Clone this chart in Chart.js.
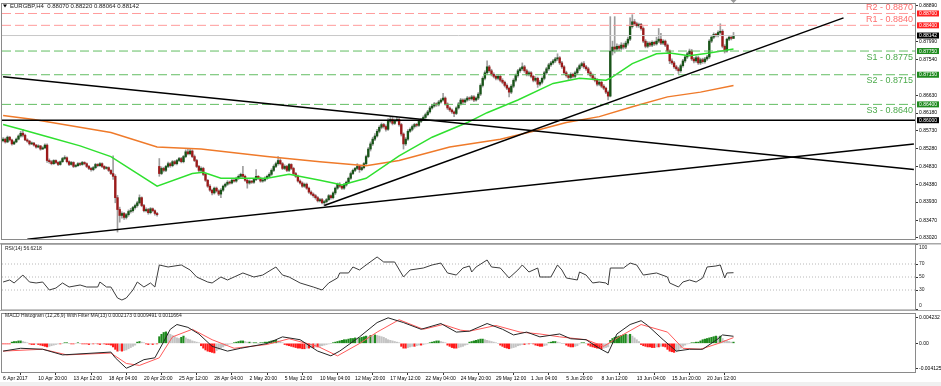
<!DOCTYPE html>
<html>
<head>
<meta charset="utf-8">
<script src="https://cdn.jsdelivr.net/npm/chart.js@4.4.1/dist/chart.umd.min.js"></script>
<style>
html, body { margin: 0; padding: 0; background: #fff; }
#wrap { position: relative; width: 941px; height: 386px; overflow: hidden; background: #fff; }
canvas { position: absolute; left: 0; }
</style>
</head>
<body>
<div id="wrap">
  <canvas id="main" width="941" height="243" style="top:0px"></canvas>
  <canvas id="rsi" width="941" height="67" style="top:243px"></canvas>
  <canvas id="macd" width="941" height="76" style="top:310px"></canvas>
</div>
<script>
// EURGBP H4 candles, bar index 0 = 6 Apr 2017
const opens = [
  0.8548,0.8552,0.8545,0.8557,0.8550,0.8540,0.8545,0.8552,0.8560,0.8567,0.8562,0.8550,0.8547,0.8540,0.8542,0.8537,0.8532,0.8535,0.8527,0.8530,0.8537,
  0.8498,0.8495,0.8490,0.8498,0.8493,0.8488,0.8495,0.8503,0.8505,0.8495,0.8488,0.8493,0.8483,0.8485,0.8490,0.8488,0.8493,0.8490,0.8483,0.8478,0.8475,0.8480,0.8488,0.8485,0.8490,0.8483,0.8478,0.8480,0.8473,
  0.8465,0.8458,0.8404,0.8374,0.8359,0.8364,0.8354,0.8361,0.8369,0.8371,0.8379,0.8384,0.8391,0.8404,0.8384,0.8371,0.8374,0.8366,0.8376,0.8371,0.8364,
  0.8483,0.8465,0.8478,0.8473,0.8483,0.8490,0.8485,0.8495,0.8490,0.8498,0.8503,0.8495,0.8508,0.8520,0.8515,0.8522,0.8508,0.8498,0.8483,0.8473,0.8478,0.8463,0.8448,0.8433,0.8423,0.8416,0.8428,0.8421,0.8413,0.8423,
  0.8433,0.8438,0.8443,0.8441,0.8448,0.8446,0.8453,0.8458,0.8463,0.8458,0.8448,0.8441,0.8446,0.8443,0.8450,0.8458,0.8453,0.8446,0.8448,0.8453,0.8458,0.8463,0.8473,0.8483,
  0.8490,0.8498,0.8490,0.8478,0.8483,0.8473,0.8488,0.8478,0.8465,0.8458,0.8446,0.8441,0.8433,0.8438,0.8428,0.8418,0.8413,0.8409,0.8404,0.8396,0.8399,0.8391,
  0.8394,0.8399,0.8409,0.8404,0.8416,0.8428,0.8438,0.8433,0.8428,0.8436,0.8443,0.8453,0.8465,0.8473,0.8478,0.8483,0.8475,0.8480,0.8490,0.8508,0.8527,0.8540,0.8552,0.8560,
  0.8572,0.8582,0.8589,0.8584,0.8577,0.8597,0.8602,0.8592,0.8599,0.8602,0.8589,0.8565,0.8540,0.8552,0.8572,
  0.8577,0.8584,0.8589,0.8587,0.8597,0.8602,0.8607,0.8614,0.8621,0.8631,0.8636,0.8641,0.8639,0.8646,0.8651,0.8656,0.8641,0.8631,0.8626,0.8621,0.8617,0.8631,0.8641,0.8651,0.8646,0.8651,0.8656,0.8654,0.8659,0.8651,
  0.8656,0.8666,0.8688,0.8706,0.8720,0.8735,0.8725,0.8716,0.8711,0.8706,0.8711,0.8701,0.8696,0.8688,0.8681,0.8671,
  0.8686,0.8701,0.8713,0.8725,0.8730,0.8735,0.8725,0.8716,0.8720,0.8711,0.8701,0.8706,0.8691,0.8696,0.8706,
  0.8720,0.8730,0.8740,0.8745,0.8750,0.8755,0.8758,0.8745,0.8735,0.8720,0.8713,0.8708,0.8716,0.8711,0.8720,0.8730,
  0.8738,0.8743,0.8735,0.8730,0.8720,0.8713,0.8706,0.8701,0.8691,0.8696,0.8686,0.8681,0.8671,
  0.8661,0.8775,0.8785,0.8780,0.8787,0.8782,0.8790,0.8785,0.8795,0.8805,0.8837,0.8849,0.8844,0.8839,0.8842,
  0.8832,0.8800,0.8787,0.8795,0.8790,0.8797,0.8793,0.8800,0.8805,0.8795,0.8800,0.8790,0.8775,0.8750,0.8745,0.8735,0.8730,
  0.8725,0.8738,0.8750,0.8760,0.8768,0.8775,0.8755,0.8750,0.8758,0.8745,0.8753,0.8748,0.8755,
  0.8760,0.8800,0.8810,0.8817,0.8815,0.8822,0.8825,0.8787,0.8775,0.8805,0.8810,0.88070
];
const highs = [
  0.8556,0.8555,0.8560,0.8559,0.8552,0.8548,0.8555,0.8563,0.8572,0.8577,0.8565,0.8553,0.8549,0.8545,0.8544,0.8539,0.8538,0.8536,0.8533,0.8540,0.8540,
  0.8502,0.8498,0.8500,0.8500,0.8495,0.8497,0.8506,0.8510,0.8507,0.8497,0.8496,0.8495,0.8488,0.8493,0.8493,0.8496,0.8495,0.8492,0.8486,0.8481,0.8483,0.8491,0.8490,0.8493,0.8492,0.8485,0.8483,0.8482,0.8475,
  0.8510,0.8462,0.8410,0.8380,0.8368,0.8367,0.8364,0.8373,0.8377,0.8382,0.8388,0.8395,0.8411,0.8406,0.8387,0.8378,0.8377,0.8379,0.8378,0.8373,0.8367,
  0.8503,0.8482,0.8481,0.8486,0.8494,0.8493,0.8498,0.8498,0.8501,0.8506,0.8506,0.8511,0.8525,0.8527,0.8527,0.8525,0.8512,0.8501,0.8486,0.8482,0.8481,0.8466,0.8450,0.8437,0.8426,0.8431,0.8431,0.8424,0.8427,0.8436,
  0.8441,0.8447,0.8446,0.8451,0.8450,0.8456,0.8462,0.8466,0.8483,0.8461,0.8451,0.8449,0.8447,0.8453,0.8475,0.8460,0.8456,0.8451,0.8457,0.8461,0.8467,0.8477,0.8487,0.8494,
  0.8508,0.8503,0.8493,0.8487,0.8486,0.8491,0.8490,0.8481,0.8468,0.8461,0.8449,0.8444,0.8441,0.8441,0.8431,0.8421,0.8416,0.8412,0.8407,0.8402,0.8402,0.8397,
  0.8402,0.8412,0.8411,0.8419,0.8431,0.8441,0.8442,0.8436,0.8440,0.8446,0.8456,0.8469,0.8476,0.8481,0.8490,0.8486,0.8483,0.8493,0.8512,0.8531,0.8545,0.8557,0.8566,0.8577,
  0.8586,0.8593,0.8592,0.8588,0.8604,0.8609,0.8607,0.8603,0.8607,0.8605,0.8592,0.8568,0.8556,0.8576,0.8581,
  0.8588,0.8592,0.8592,0.8600,0.8605,0.8611,0.8618,0.8625,0.8635,0.8640,0.8645,0.8644,0.8650,0.8655,0.8668,0.8659,0.8644,0.8634,0.8629,0.8624,0.8634,0.8645,0.8655,0.8654,0.8655,0.8660,0.8659,0.8663,0.8662,0.8659,
  0.8670,0.8692,0.8710,0.8725,0.8750,0.8739,0.8729,0.8720,0.8715,0.8715,0.8714,0.8705,0.8699,0.8692,0.8684,0.8690,
  0.8705,0.8717,0.8729,0.8734,0.8745,0.8739,0.8729,0.8724,0.8723,0.8714,0.8710,0.8709,0.8700,0.8710,0.8724,
  0.8734,0.8744,0.8749,0.8754,0.8759,0.8768,0.8761,0.8749,0.8738,0.8724,0.8716,0.8720,0.8719,0.8724,0.8734,0.8742,
  0.8747,0.8748,0.8739,0.8734,0.8724,0.8717,0.8710,0.8705,0.8700,0.8699,0.8690,0.8684,0.8674,
  0.8862,0.8800,0.8862,0.8793,0.8791,0.8796,0.8795,0.8800,0.8810,0.8859,0.8867,0.8855,0.8848,0.8846,0.8845,
  0.8836,0.8804,0.8799,0.8798,0.8801,0.8800,0.8810,0.8832,0.8820,0.8804,0.8803,0.8793,0.8778,0.8755,0.8749,0.8739,0.8734,
  0.8742,0.8754,0.8764,0.8772,0.8780,0.8779,0.8759,0.8762,0.8762,0.8757,0.8757,0.8759,0.8764,
  0.8804,0.8814,0.8821,0.8820,0.8826,0.8844,0.8829,0.8791,0.8808,0.8814,0.8812,0.88220
];
const lows = [
  0.8545,0.8542,0.8543,0.8547,0.8537,0.8538,0.8543,0.8550,0.8557,0.8558,0.8548,0.8544,0.8537,0.8538,0.8534,0.8529,0.8530,0.8524,0.8526,0.8528,0.8493,
  0.8491,0.8487,0.8488,0.8490,0.8485,0.8486,0.8493,0.8500,0.8492,0.8485,0.8486,0.8480,0.8481,0.8483,0.8485,0.8486,0.8487,0.8480,0.8475,0.8471,0.8472,0.8477,0.8482,0.8483,0.8480,0.8475,0.8476,0.8470,0.8462,
  0.8450,0.8391,0.8317,0.8342,0.8352,0.8349,0.8350,0.8357,0.8365,0.8367,0.8375,0.8380,0.8388,0.8381,0.8368,0.8368,0.8362,0.8363,0.8368,0.8360,0.8357,
  0.8458,0.8462,0.8469,0.8470,0.8480,0.8481,0.8482,0.8487,0.8487,0.8495,0.8492,0.8492,0.8505,0.8512,0.8512,0.8505,0.8495,0.8480,0.8470,0.8470,0.8460,0.8445,0.8430,0.8420,0.8411,0.8413,0.8418,0.8409,0.8404,0.8420,
  0.8430,0.8435,0.8438,0.8439,0.8443,0.8443,0.8450,0.8455,0.8455,0.8445,0.8428,0.8438,0.8440,0.8440,0.8447,0.8450,0.8443,0.8443,0.8445,0.8450,0.8455,0.8460,0.8470,0.8480,
  0.8486,0.8487,0.8475,0.8475,0.8470,0.8470,0.8475,0.8462,0.8455,0.8443,0.8438,0.8430,0.8430,0.8425,0.8415,0.8410,0.8405,0.8400,0.8393,0.8393,0.8388,0.8384,
  0.8390,0.8396,0.8400,0.8401,0.8412,0.8425,0.8430,0.8425,0.8425,0.8433,0.8440,0.8450,0.8462,0.8470,0.8475,0.8468,0.8472,0.8477,0.8487,0.8505,0.8522,0.8536,0.8548,0.8557,
  0.8568,0.8578,0.8580,0.8572,0.8574,0.8593,0.8588,0.8589,0.8596,0.8585,0.8560,0.8527,0.8536,0.8549,0.8569,
  0.8573,0.8580,0.8583,0.8584,0.8594,0.8599,0.8604,0.8611,0.8618,0.8628,0.8633,0.8635,0.8636,0.8643,0.8648,0.8638,0.8627,0.8622,0.8617,0.8609,0.8614,0.8628,0.8638,0.8642,0.8643,0.8648,0.8650,0.8651,0.8647,0.8648,
  0.8652,0.8662,0.8684,0.8702,0.8716,0.8721,0.8712,0.8707,0.8702,0.8702,0.8697,0.8692,0.8684,0.8677,0.8659,0.8667,
  0.8682,0.8697,0.8709,0.8721,0.8726,0.8721,0.8712,0.8712,0.8707,0.8697,0.8697,0.8683,0.8687,0.8692,0.8702,
  0.8716,0.8726,0.8736,0.8741,0.8746,0.8751,0.8741,0.8731,0.8716,0.8709,0.8703,0.8704,0.8707,0.8707,0.8716,0.8726,
  0.8734,0.8731,0.8726,0.8716,0.8709,0.8702,0.8697,0.8687,0.8687,0.8682,0.8677,0.8667,0.8651,
  0.8659,0.8765,0.8770,0.8775,0.8776,0.8778,0.8780,0.8781,0.8790,0.8801,0.8833,0.8840,0.8835,0.8835,0.8828,
  0.8796,0.8783,0.8783,0.8786,0.8786,0.8789,0.8790,0.8796,0.8791,0.8791,0.8786,0.8771,0.8743,0.8741,0.8731,0.8726,0.8718,
  0.8721,0.8734,0.8746,0.8756,0.8764,0.8751,0.8745,0.8746,0.8741,0.8741,0.8744,0.8744,0.8751,
  0.8756,0.8796,0.8806,0.8811,0.8811,0.8818,0.8783,0.8770,0.8772,0.8801,0.8803,0.88064
];
const closes = [
  0.8552,0.8545,0.8557,0.8550,0.8540,0.8545,0.8552,0.8560,0.8567,0.8562,0.8550,0.8547,0.8540,0.8542,0.8537,0.8532,0.8535,0.8527,0.8530,0.8537,0.8498,
  0.8495,0.8490,0.8498,0.8493,0.8488,0.8495,0.8503,0.8505,0.8495,0.8488,0.8493,0.8483,0.8485,0.8490,0.8488,0.8493,0.8490,0.8483,0.8478,0.8475,0.8480,0.8488,0.8485,0.8490,0.8483,0.8478,0.8480,0.8473,0.8465,
  0.8458,0.8404,0.8374,0.8359,0.8364,0.8354,0.8361,0.8369,0.8371,0.8379,0.8384,0.8391,0.8404,0.8384,0.8371,0.8374,0.8366,0.8376,0.8371,0.8364,0.8361,
  0.8465,0.8478,0.8473,0.8483,0.8490,0.8485,0.8495,0.8490,0.8498,0.8503,0.8495,0.8508,0.8520,0.8515,0.8522,0.8508,0.8498,0.8483,0.8473,0.8478,0.8463,0.8448,0.8433,0.8423,0.8416,0.8428,0.8421,0.8413,0.8423,0.8433,
  0.8438,0.8443,0.8441,0.8448,0.8446,0.8453,0.8458,0.8463,0.8458,0.8448,0.8441,0.8446,0.8443,0.8450,0.8458,0.8453,0.8446,0.8448,0.8453,0.8458,0.8463,0.8473,0.8483,0.8490,
  0.8498,0.8490,0.8478,0.8483,0.8473,0.8488,0.8478,0.8465,0.8458,0.8446,0.8441,0.8433,0.8438,0.8428,0.8418,0.8413,0.8409,0.8404,0.8396,0.8399,0.8391,0.8394,
  0.8399,0.8409,0.8404,0.8416,0.8428,0.8438,0.8433,0.8428,0.8436,0.8443,0.8453,0.8465,0.8473,0.8478,0.8483,0.8475,0.8480,0.8490,0.8508,0.8527,0.8540,0.8552,0.8560,0.8572,
  0.8582,0.8589,0.8584,0.8577,0.8597,0.8602,0.8592,0.8599,0.8602,0.8589,0.8565,0.8540,0.8552,0.8572,0.8577,
  0.8584,0.8589,0.8587,0.8597,0.8602,0.8607,0.8614,0.8621,0.8631,0.8636,0.8641,0.8639,0.8646,0.8651,0.8656,0.8641,0.8631,0.8626,0.8621,0.8617,0.8631,0.8641,0.8651,0.8646,0.8651,0.8656,0.8654,0.8659,0.8651,0.8656,
  0.8666,0.8688,0.8706,0.8720,0.8735,0.8725,0.8716,0.8711,0.8706,0.8711,0.8701,0.8696,0.8688,0.8681,0.8671,0.8686,
  0.8701,0.8713,0.8725,0.8730,0.8735,0.8725,0.8716,0.8720,0.8711,0.8701,0.8706,0.8691,0.8696,0.8706,0.8720,
  0.8730,0.8740,0.8745,0.8750,0.8755,0.8758,0.8745,0.8735,0.8720,0.8713,0.8708,0.8716,0.8711,0.8720,0.8730,0.8738,
  0.8743,0.8735,0.8730,0.8720,0.8713,0.8706,0.8701,0.8691,0.8696,0.8686,0.8681,0.8671,0.8661,
  0.8775,0.8785,0.8780,0.8787,0.8782,0.8790,0.8785,0.8795,0.8805,0.8837,0.8849,0.8844,0.8839,0.8842,0.8832,
  0.8800,0.8787,0.8795,0.8790,0.8797,0.8793,0.8800,0.8805,0.8795,0.8800,0.8790,0.8775,0.8750,0.8745,0.8735,0.8730,0.8725,
  0.8738,0.8750,0.8760,0.8768,0.8775,0.8755,0.8750,0.8758,0.8745,0.8753,0.8748,0.8755,0.8760,
  0.8800,0.8810,0.8817,0.8815,0.8822,0.8825,0.8787,0.8775,0.8805,0.8810,0.8807,0.88142
];

// moving averages (bar index, price)
const ma50Bars = [0,8,21,35,49,70,86,91,99,120,130,144,150,154,165,180,195,211,220,234,250,262,274,276,286,297,303,312,321,332];
const ma50Values = [0.8589,0.8577,0.8557,0.8535,0.8508,0.8433,0.8465,0.8468,0.8453,0.8453,0.8463,0.8448,0.8441,0.8436,0.8453,0.8510,0.8557,0.8594,0.8619,0.8651,0.8693,0.8706,0.8701,0.8706,0.8743,0.8768,0.8770,0.8763,0.8770,0.8780];
const ma200Bars = [0,14,49,70,90,120,144,165,180,203,226,241,256,271,286,302,317,332];
const ma200Values = [0.8612,0.8602,0.8569,0.8532,0.8527,0.8508,0.8495,0.8485,0.8498,0.8532,0.8552,0.8572,0.8594,0.8609,0.8634,0.8659,0.8671,0.8688];

// trendlines: start bar/price, end bar/price
const tlBar1 = [0, 11, 146];
const tlPrice1 = [0.8710, 0.8299, 0.8384];
const tlBar2 = [414, 414, 382];
const tlPrice2 = [0.8475, 0.8540, 0.8859];

// support / resistance
const levelNames = ['R2', 'R1', 'S1', 'S2', 'S3'];
const levelValues = [0.8870, 0.8840, 0.8775, 0.8715, 0.8640];
const keyLevel = 0.8600;
const priceTicks = [0.8889,0.8799,0.8754,0.8663,0.8618,0.8573,0.8528,0.8483,0.8438,0.8393,0.8347,0.8302];

// RSI(14)
const rsiBars = [0,3,5,9,12,15,18,21,24,27,30,35,38,43,44,47,49,52,54,56,59,61,64,67,69,71,75,81,85,88,93,95,99,102,105,109,114,118,124,127,130,135,141,145,148,152,153,157,159,162,165,170,173,178,182,185,191,195,199,202,206,209,212,213,215,220,222,226,230,234,236,239,243,244,249,252,254,256,261,262,265,268,271,274,275,276,282,285,288,291,297,302,303,307,309,312,315,318,320,324,326,328,329,332];
const rsiValues = [42.3,45.4,40.8,53,42.3,40.8,42.3,30,33,40.8,34.6,37.7,34.6,34.6,42.3,34.6,34.6,17.7,14.6,17.7,30,42.3,34.6,40.8,34.6,68.5,65.4,68.5,60.8,50,42.3,40.8,50,45.4,50,56.2,50,53,65.4,53,50,40.8,34.6,30,40.8,48.5,56.2,56.2,65.4,60.8,68.5,80.8,73.1,73.1,50,60.8,63.8,68.5,71.5,56.2,53,63.8,66.9,57.7,65.4,76.2,65.4,63.8,48.5,60.8,68.5,57.7,63.8,50,50,68.5,60.8,48.5,45.4,57.7,53,40.8,42.3,40.8,37.7,63.8,63.8,71.5,68.5,53,56.2,50,40.8,34.6,42.3,45.4,42.3,48.5,65.4,66.9,68.5,48.5,56.2,56.6];
const rsiLevels = [30, 50, 70];
const rsiLabelValues = [0, 30, 50, 70, 100];
const rsiLast = 56.6218;

// MACD histogram (one per bar), MACD and signal lines
const histValues = [
  -0.0001,-0.0001,-0.0001,-0.0001,
  0.0002,0.0003,0.0003,0.0004,0.0004,0.0003,0.0002,0.0001,
  -0.0001,-0.0002,-0.0002,-0.0001,-0.0002,-0.0003,-0.0004,-0.0005,
  -0.0006,-0.0005,-0.0004,-0.0003,
  -0.0002,-0.0001,-0.0001,0,0.0001,0.0001,0,-0.0001,-0.0001,0,0.0001,0,-0.0001,-0.0001,
  -0.0001,-0.0002,-0.0001,-0.0001,0,-0.0001,-0.0002,-0.0001,-0.0001,-0.0002,-0.0002,-0.0003,
  -0.0006,-0.0010,-0.0013,-0.0012,-0.0013,-0.0012,-0.0011,
  -0.0009,-0.0007,-0.0005,-0.0003,
  0.0002,0.0003,0.0002,0.0001,
  -0.0001,-0.0002,-0.0001,-0.0002,-0.0001,-0.0001,
  0.0011,0.0015,0.0018,0.0019,0.0017,
  0.0015,0.0013,0.0011,0.0009,0.0008,0.0010,
  0.0012,0.0009,0.0007,0.0006,0.0004,0.0003,0.0002,0.0001,
  -0.0004,-0.0008,-0.0011,-0.0013,-0.0014,-0.0015,-0.0016,
  -0.0012,-0.0010,-0.0008,-0.0006,-0.0004,-0.0002,-0.0001,0,
  0.0001,0.0002,0.0003,0.0004,0.0004,0.0003,0.0002,0.0002,0.0001,0.0001,
  0.0001,0,0.0001,0.0001,0.0002,0.0002,0.0003,0.0004,0.0005,0.0005,0.0004,0.0003,0.0001,
  -0.0002,-0.0003,-0.0004,-0.0005,-0.0006,-0.0007,-0.0008,-0.0008,-0.0009,-0.0009,-0.0008,-0.0008,-0.0007,-0.0007,-0.0006,-0.0006,-0.0005,-0.0004,-0.0003,-0.0002,-0.0001,
  0,0.0001,0.0002,
  0.0003,0.0004,0.0005,0.0006,0.0006,0.0007,0.0008,0.0008,0.0009,0.0008,0.0009,0.0010,0.0011,0.0012,0.0011,0.0013,0.0012,0.0014,0.0013,0.0012,0.0011,
  0.0010,0.0008,0.0006,0.0005,0.0004,0.0003,0.0002,0.0001,
  -0.0005,-0.0008,-0.0008,-0.0007,-0.0006,-0.0005,-0.0005,-0.0004,-0.0003,-0.0003,-0.0002,-0.0001,0,
  0.0001,0.0002,0.0003,0.0004,0.0004,0.0003,0.0002,0.0001,
  -0.0003,-0.0005,-0.0007,-0.0008,-0.0008,-0.0007,-0.0006,-0.0005,-0.0003,-0.0002,
  0.0002,0.0003,0.0004,0.0005,0.0006,0.0007,0.0007,0.0006,
  0.0005,0.0004,0.0003,0.0002,0.0001,0,
  -0.0003,-0.0005,-0.0007,-0.0008,-0.0009,-0.0008,-0.0007,-0.0006,-0.0004,-0.0003,
  -0.0002,-0.0002,-0.0001,-0.0001,0,-0.0001,
  -0.0003,-0.0004,-0.0005,-0.0005,-0.0004,-0.0003,
  0.0001,0.0002,0.0003,0.0003,0.0002,
  0.0001,0,0,
  -0.0003,-0.0005,-0.0006,-0.0006,-0.0005,-0.0004,
  -0.0001,0.0001,0.0001,0,
  -0.0003,-0.0005,-0.0006,-0.0007,-0.0008,-0.0008,-0.0009,-0.0008,-0.0007,-0.0006,
  0.0005,0.0008,0.0010,0.0011,
  0.0012,0.0013,0.0014,0.0015,0.0014,0.0015,
  0.0012,0.0009,0.0006,0.0003,
  -0.0002,-0.0004,-0.0005,-0.0006,-0.0006,-0.0007,-0.0007,-0.0006,-0.0006,-0.0005,-0.0005,-0.0006,
  -0.0010,-0.0013,-0.0014,-0.0015,-0.0014,-0.0012,
  -0.0008,-0.0005,-0.0003,-0.0001,0,0.0001,
  0.0001,0.0002,0.0002,
  0.0004,0.0006,0.0007,0.0008,0.0009,0.0010,0.0011,0.0012,0.0011,0.0012,
  0.0008,0.0005,0.0004,0.0003,0.0002,0.0002
];
const macdBars = [0,8,18,27,49,51,56,59,64,69,73,76,79,84,89,95,102,108,120,127,135,143,149,153,162,170,175,182,190,199,206,212,220,227,232,238,244,253,258,265,271,275,279,285,290,293,300,306,312,318,325,327,332];
const macdValues = [-0.00129,-0.00082,-0.00098,-0.00192,-0.00145,-0.0024,-0.00413,-0.00366,-0.00271,-0.0024,0.00028,0.00233,0.00312,0.00265,0.00155,-0.0005,-0.00129,-0.00082,-0.00003,0.00107,0.0006,-0.00129,-0.00208,-0.00129,0.00107,0.00344,0.00423,0.00344,0.00233,0.00328,0.00186,0.00202,0.00328,0.00233,0.00139,0.00186,0.00107,0.00155,0.00076,0.0006,-0.00082,-0.00161,0.00155,0.00312,0.00375,0.00296,0.0006,-0.00129,-0.00098,-0.00098,0.00076,0.00139,0.00117];
const signalBars = [0,18,29,49,56,62,71,77,86,95,105,120,130,143,152,162,170,180,191,200,208,212,224,235,244,253,265,273,280,290,302,309,317,325,332];
const signalValues = [-0.00129,-0.00098,-0.00192,-0.00161,-0.00334,-0.00366,-0.0024,0.00107,0.00233,0.0006,-0.00082,-0.00019,0.00076,-0.0005,-0.00208,-0.00003,0.00186,0.00391,0.00233,0.00312,0.00218,0.00202,0.00296,0.00186,0.00155,0.00107,0.0006,-0.0005,0.00107,0.00312,0.00186,-0.00082,-0.00098,-0.00003,0.00095];
const macdTitleValues = ['0.0002173', '0.0009491', '0.0011664'];
const macdTickValues = [-0.004125, 0, 0.004232];
const macdTickLabels = ['-0.004125', '0.00', '0.004232'];

// time axis
const tickBars = [0,16,32,48,64,80,96,112,128,144,160,176,192,208,224,240,256,272,288,304,320];
const timeLabels = ['6 Apr 2017','10 Apr 20:00','13 Apr 12:00','18 Apr 04:00','20 Apr 20:00','25 Apr 12:00','28 Apr 04:00','2 May 20:00','5 May 12:00','10 May 04:00','12 May 20:00','17 May 12:00','22 May 04:00','24 May 20:00','29 May 12:00','1 Jun 04:00','5 Jun 20:00','8 Jun 12:00','13 Jun 04:00','15 Jun 20:00','20 Jun 12:00'];

const FONT = '"Liberation Sans", Arial, sans-serif';
Chart.defaults.font.family = FONT;
Chart.defaults.color = '#000';

const xScale = { type: 'linear', min: -0.5, max: 414.5, offset: false, display: false };
const pts = (xs, ys) => xs.map((x, i) => ({ x: x, y: ys[i] }));
const line = (data, color, width, dash, order) => ({
  type: 'line', data: data, borderColor: color, borderWidth: width, borderDash: dash || [],
  pointRadius: 0, tension: 0, order: order
});
const hline = v => [{ x: -0.5, y: v }, { x: 414.5, y: v }];
const baseOpts = pad => ({
  responsive: false, animation: false, devicePixelRatio: 1,
  layout: { padding: pad },
  plugins: { legend: { display: false }, tooltip: { enabled: false } },
  events: []
});
const rightAxis = extra => Object.assign({
  position: 'right',
  afterFit(ax) { ax.width = 26; },
  grid: { drawOnChartArea: false, tickLength: 3, color: '#333' },
  border: { color: '#555' },
  ticks: { autoSkip: false, padding: 1, font: { size: 5 }, color: '#000' }
}, extra);

function frame(ctx, a) {
  ctx.strokeStyle = '#8a8a8a';
  ctx.lineWidth = 1;
  ctx.strokeRect(a.left - 0.5, a.top - 0.5, a.width + 1, a.height + 1);
}

// ---------- main price chart ----------
const last = closes.length - 1;
const bodyColors = closes.map((c, i) => c >= opens[i] ? '#185418' : '#9c1a1a');

const mainDecor = {
  id: 'mainDecor',
  afterDraw(chart) {
    const { ctx, chartArea: a, scales: { x, y } } = chart;
    ctx.save();
    frame(ctx, a);

    // captions of S/R lines
    ctx.font = '9px ' + FONT;
    ctx.textAlign = 'right';
    levelNames.forEach((n, i) => {
      const py = y.getPixelForValue(levelValues[i]);
      const res = n[0] === 'R';
      ctx.fillStyle = res ? '#ff6e6e' : '#4caa4c';
      ctx.textBaseline = res ? 'bottom' : 'top';
      ctx.fillText(n + ' - ' + levelValues[i].toFixed(4), a.right - 2, res ? py - 1.5 : py + 1.5);
    });

    // price boxes on the axis
    const boxes = levelValues.map((v, i) => [v, levelNames[i][0] === 'R' ? '#ff2020' : '#1f8a1f'])
      .concat([[closes[last], '#000'], [keyLevel, '#000']]);
    ctx.font = '5px ' + FONT;
    ctx.textAlign = 'left';
    ctx.textBaseline = 'middle';
    boxes.forEach(([v, col]) => {
      const py = y.getPixelForValue(v);
      ctx.fillStyle = col;
      ctx.fillRect(a.right + 2, py - 3, 22, 6);
      ctx.fillStyle = '#fff';
      ctx.fillText(v.toFixed(5), a.right + 4, py + 0.3);
    });

    // title
    ctx.fillStyle = '#000';
    ctx.beginPath();
    ctx.moveTo(3, 4.5); ctx.lineTo(7, 4.5); ctx.lineTo(5, 7.5); ctx.closePath(); ctx.fill();
    ctx.font = '6px ' + FONT;
    ctx.fillStyle = '#222';
    ctx.fillText('EURGBP,H4  ' + [opens[last], highs[last], lows[last], closes[last]].map(v => v.toFixed(5)).join(' '), 10, 6.5);

    // shift marker
    const sx = x.getPixelForValue(last);
    ctx.fillStyle = '#9a9a9a';
    ctx.beginPath();
    ctx.moveTo(sx - 3, 0); ctx.lineTo(sx + 3, 0); ctx.lineTo(sx, 3); ctx.closePath(); ctx.fill();
    ctx.restore();
  }
};

const mainSets = [
  { type: 'bar', data: highs.map((h, i) => ({ x: i, y: [lows[i], h] })), backgroundColor: '#9e9e9e',
    barThickness: 1, grouped: false, order: 10 },
  { type: 'bar', data: closes.map((c, i) => ({ x: i, y: [opens[i], c] })), backgroundColor: bodyColors,
    barThickness: 1.7, minBarLength: 1, grouped: false, order: 9 },
  line(pts(ma50Bars, ma50Values), '#2fe02f', 1.5, null, 5),
  line(pts(ma200Bars, ma200Values), '#ef7a2a', 1.5, null, 5),
  line(hline(closes[last]), '#c8c8c8', 1, null, 8),
  line(hline(keyLevel), '#000', 1.6, null, 3)
];
levelNames.forEach((n, i) => {
  mainSets.push(line(hline(levelValues[i]), n[0] === 'R' ? '#ff9c9c' : '#62bd62', 1, [9, 4], 3));
});
tlBar1.forEach((b, i) => {
  mainSets.push(line([{ x: b, y: tlPrice1[i] }, { x: tlBar2[i], y: tlPrice2[i] }], '#000', 1.5, null, 2));
});

new Chart(document.getElementById('main'), {
  type: 'bar',
  data: { datasets: mainSets },
  options: Object.assign(baseOpts({ left: 2, top: 2, bottom: 1, right: 0 }), {
    scales: {
      x: xScale,
      y: rightAxis({
        min: 0.82994, max: 0.88940,
        afterBuildTicks(ax) { ax.ticks = priceTicks.map(v => ({ value: v })); },
        ticks: { autoSkip: false, padding: 1, font: { size: 5 }, color: '#000', callback: v => v.toFixed(5) }
      })
    }
  }),
  plugins: [mainDecor]
});

// ---------- RSI ----------
const rsiDecor = {
  id: 'rsiDecor',
  afterDraw(chart) {
    const { ctx, chartArea: a, scales: { y } } = chart;
    ctx.save();
    ctx.fillStyle = '#a8a8a8';
    ctx.fillRect(0, 0, chart.width, 1.5);
    frame(ctx, a);
    ctx.font = '5px ' + FONT;
    ctx.fillStyle = '#222';
    ctx.textBaseline = 'middle';
    ctx.textAlign = 'left';
    ctx.fillText('RSI(14) ' + rsiLast.toFixed(4), 5, 5.5);
    rsiLabelValues.forEach(v => {
      const py = Math.min(Math.max(y.getPixelForValue(v), a.top + 3.5), a.bottom - 3.5);
      ctx.fillText(String(v), a.right + 4, py);
    });
    ctx.restore();
  }
};
const rsiSets = [line(pts(rsiBars, rsiValues), '#3c3c3c', 1, null, 1)];
rsiLevels.forEach(v => rsiSets.push(line(hline(v), '#b8b8b8', 1, [1, 2], 4)));

new Chart(document.getElementById('rsi'), {
  type: 'line',
  data: { datasets: rsiSets },
  options: Object.assign(baseOpts({ left: 2, top: 1.5, bottom: 0.5, right: 0 }), {
    scales: {
      x: xScale,
      y: rightAxis({
        min: 0, max: 100,
        afterBuildTicks(ax) { ax.ticks = rsiLabelValues.map(v => ({ value: v })); },
        ticks: { display: false }
      })
    }
  }),
  plugins: [rsiDecor]
});

// ---------- MACD ----------
const histColors = histValues.map((v, i) => {
  const p = i ? histValues[i - 1] : 0;
  if (v > 0 && v >= p) return '#1e8a1e';
  if (v < 0 && v <= p) return '#ff1a1a';
  return '#c4c4c4';
});
const macdDecor = {
  id: 'macdDecor',
  beforeDraw(chart) {
    const ctx = chart.ctx;
    ctx.save();
    ctx.fillStyle = '#f0f0f0';
    ctx.fillRect(0, chart.height - 4, chart.width, 4);
    ctx.restore();
  },
  afterDraw(chart) {
    const { ctx, chartArea: a } = chart;
    ctx.save();
    ctx.fillStyle = '#a8a8a8';
    ctx.fillRect(0, 0, chart.width, 1);
    frame(ctx, a);
    ctx.font = '5px ' + FONT;
    ctx.fillStyle = '#222';
    ctx.textBaseline = 'middle';
    ctx.fillText('MACD Histogram (12,26,9) With Filter MA(13) ' + macdTitleValues.join(' '), 5, 6);
    ctx.restore();
  }
};

new Chart(document.getElementById('macd'), {
  type: 'bar',
  data: {
    datasets: [
      { type: 'bar', data: histValues.map((v, i) => ({ x: i, y: v })), backgroundColor: histColors,
        barThickness: 1.5, grouped: false, order: 5 },
      line(pts(macdBars, macdValues), '#262626', 1, null, 1),
      line(pts(signalBars, signalValues), '#ff5a5a', 1, null, 2)
    ]
  },
  options: Object.assign(baseOpts({ left: 2, top: 1, bottom: 2, right: 0 }), {
    scales: {
      x: {
        type: 'linear', min: -0.5, max: 414.5, offset: false, position: 'bottom',
        afterFit(ax) { ax.height = 12; },
        afterBuildTicks(ax) { ax.ticks = tickBars.map(v => ({ value: v })); },
        ticks: { autoSkip: false, maxRotation: 0, align: 'start', padding: 1, font: { size: 5 }, color: '#000',
          callback: (v, i) => timeLabels[i] },
        grid: { drawOnChartArea: false, tickLength: 3, color: '#333' },
        border: { color: '#555' }
      },
      y: rightAxis({
        min: -0.004755, max: 0.004863,
        afterBuildTicks(ax) { ax.ticks = macdTickValues.map(v => ({ value: v })); },
        ticks: { autoSkip: false, padding: 1, font: { size: 5 }, color: '#000', callback: (v, i) => macdTickLabels[i] }
      })
    }
  }),
  plugins: [macdDecor]
});
</script>
</body>
</html>
